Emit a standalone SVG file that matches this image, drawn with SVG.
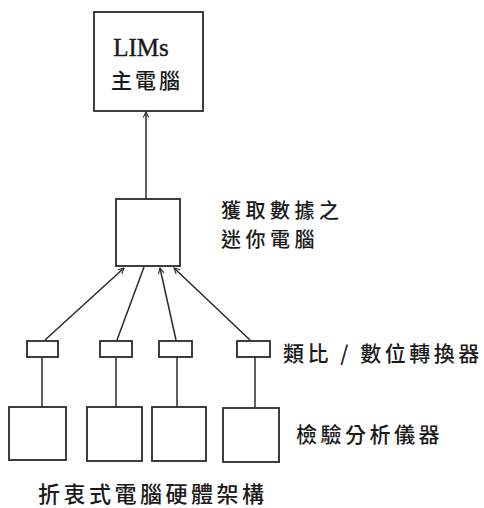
<svg xmlns="http://www.w3.org/2000/svg" width="484" height="508" viewBox="0 0 484 508">
<style>
.box{fill:#fff;stroke:#2a2a2a;stroke-width:1.8}
.ln{stroke:#2a2a2a;stroke-width:1.5;fill:none}
.cjk{font-family:"Noto Sans CJK TC","Noto Sans CJK JP",sans-serif;fill:#1a1a1a;font-size:21px;font-weight:500;letter-spacing:3.5px}
.lat{font-family:"Liberation Serif",serif;fill:#1a1a1a;font-size:25px;stroke:#1a1a1a;stroke-width:0.4}
</style>
<defs>
<marker id="ah" viewBox="0 0 10 10" refX="9" refY="5" markerWidth="7" markerHeight="7" orient="auto" markerUnits="userSpaceOnUse">
<path d="M1,1 L9,5 L1,9" fill="none" stroke="#2a2a2a" stroke-width="1.5"/>
</marker>
</defs>
<rect width="484" height="508" fill="#fff"/>
<g id="connectors">
<line class="ln" x1="146" y1="199" x2="146" y2="112" marker-end="url(#ah)"/>
<line class="ln" x1="45" y1="340" x2="124" y2="268" marker-end="url(#ah)"/>
<line class="ln" x1="117" y1="340" x2="144" y2="267"/>
<line class="ln" x1="176" y1="340" x2="160" y2="268" marker-end="url(#ah)"/>
<line class="ln" x1="250" y1="340" x2="174" y2="268" marker-end="url(#ah)"/>
<line class="ln" x1="42" y1="357" x2="42" y2="407"/>
<line class="ln" x1="116" y1="357" x2="116" y2="407"/>
<line class="ln" x1="177" y1="357" x2="177" y2="407"/>
<line class="ln" x1="255" y1="357" x2="255" y2="407"/>
</g>
<g id="lims">
<rect class="box" x="94" y="12" width="109" height="99"/>
<text class="lat" x="141" y="56" text-anchor="middle">LIMs</text>
<text class="cjk" x="111" y="88" style="font-size:21px;letter-spacing:3px">主電腦</text>
</g>
<g id="mini">
<rect class="box" x="116" y="199" width="64" height="67"/>
<text class="cjk" x="221" y="218" style="font-size:20px;letter-spacing:4.5px">獲取數據之</text>
<text class="cjk" x="221" y="247" style="font-size:20px;letter-spacing:4.5px">迷你電腦</text>
</g>
<g id="adc1"><rect class="box" x="27" y="341" width="31" height="16"/></g>
<g id="adc2"><rect class="box" x="100" y="341" width="32" height="16"/></g>
<g id="adc3"><rect class="box" x="159" y="341" width="33" height="16"/></g>
<g id="adc4"><rect class="box" x="237" y="341" width="33" height="16"/>
<text class="cjk" x="283" y="361" style="letter-spacing:3.5px">類比 / 數位轉換器</text></g>
<g id="inst1"><rect class="box" x="9" y="407" width="57" height="53"/></g>
<g id="inst2"><rect class="box" x="87" y="407" width="55" height="54"/></g>
<g id="inst3"><rect class="box" x="152" y="407" width="54" height="54"/></g>
<g id="inst4"><rect class="box" x="223" y="408" width="56" height="54"/>
<text class="cjk" x="296" y="442">檢驗分析儀器</text></g>
<g id="caption">
<text class="cjk" x="38" y="502" style="font-size:22px;letter-spacing:3.5px">折衷式電腦硬體架構</text>
</g>
</svg>
